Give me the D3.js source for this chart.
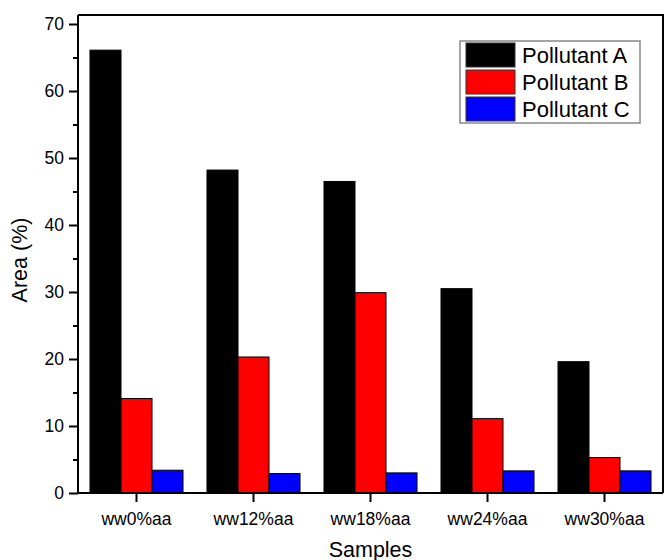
<!DOCTYPE html>
<html>
<head>
<meta charset="utf-8">
<script src="https://cdn.jsdelivr.net/npm/d3@7"></script>
<style>
  body { margin: 0; background: #fff; }
  text { font-family: Arial, "Liberation Sans", sans-serif; fill: #000; }
</style>
</head>
<body>
<svg id="chart" width="664" height="560"></svg>
<script>
// data
var samples = ["ww0%aa", "ww12%aa", "ww18%aa", "ww24%aa", "ww30%aa"];
var seriesNames = ["Pollutant A", "Pollutant B", "Pollutant C"];
var pollutantA = [66.1, 48.2, 46.5, 30.5, 19.6];
var pollutantB = [14.1, 20.3, 29.9, 11.1, 5.3];
var pollutantC = [3.4, 2.9, 3.0, 3.3, 3.3];
var colors = ["#000000", "#ff0000", "#0000ff"];
var yMajor = [0, 10, 20, 30, 40, 50, 60, 70];
var yMinor = [5, 15, 25, 35, 45, 55, 65];

var svg = d3.select("#chart");
var plotLeft = 78, plotRight = 663, plotTop = 15, plotBottom = 493;

var rows = samples.map(function(s, i) {
    return { sample: s, values: [pollutantA[i], pollutantB[i], pollutantC[i]] };
});

var x0 = d3.scaleBand()
    .domain(samples)
    .range([plotLeft, plotRight])
    .paddingInner(0.205)
    .paddingOuter(0.1025);
var x1 = d3.scaleBand()
    .domain(d3.range(seriesNames.length))
    .range([0, x0.bandwidth()]);
var y = d3.scaleLinear()
    .domain([0, 70])
    .range([plotBottom, 24]);

// bars
svg.append("g")
    .selectAll("g")
    .data(rows)
    .enter().append("g")
    .attr("transform", function(d) { return "translate(" + x0(d.sample) + ",0)"; })
    .selectAll("rect")
    .data(function(d) { return d.values; })
    .enter().append("rect")
    .attr("x", function(d, i) { return x1(i); })
    .attr("y", function(d) { return y(d); })
    .attr("width", x1.bandwidth())
    .attr("height", function(d) { return y(0) - y(d); })
    .attr("fill", function(d, i) { return colors[i]; })
    .attr("stroke", "#000")
    .attr("stroke-width", 1);

// frame: top and right
svg.append("path")
    .attr("d", "M" + plotLeft + "," + plotTop + "H" + plotRight + "V" + plotBottom)
    .attr("fill", "none")
    .attr("stroke", "#000")
    .attr("stroke-width", 2);

// y axis
var yAxis = svg.append("g")
    .attr("transform", "translate(" + plotLeft + ",0)")
    .call(d3.axisLeft(y).tickValues(yMajor).tickSize(9).tickPadding(5));
svg.append("g")
    .attr("transform", "translate(" + plotLeft + ",0)")
    .call(d3.axisLeft(y).tickValues(yMinor).tickSize(5).tickFormat(""))
    .select(".domain").remove();
yAxis.select(".domain").attr("d", "M0," + plotTop + "V" + plotBottom);

// x axis
var xAxis = svg.append("g")
    .attr("transform", "translate(0," + plotBottom + ")")
    .call(d3.axisBottom(x0).tickSize(9).tickPadding(11).tickSizeOuter(0));
xAxis.select(".domain").attr("d", "M" + plotLeft + ",0H" + plotRight);

svg.selectAll(".tick line, .domain")
    .attr("stroke", "#000")
    .attr("stroke-width", 2);
svg.selectAll(".tick text")
    .attr("font-size", 17.5)
    .attr("font-family", "Arial, 'Liberation Sans', sans-serif")
    .attr("fill", "#000");

// axis titles
svg.append("text")
    .attr("x", (plotLeft + plotRight) / 2)
    .attr("y", 557)
    .attr("text-anchor", "middle")
    .attr("font-size", 21.5)
    .text("Samples");
svg.append("text")
    .attr("transform", "translate(27,260) rotate(-90)")
    .attr("text-anchor", "middle")
    .attr("font-size", 21.5)
    .text("Area (%)");

// legend
var legend = svg.append("g").attr("transform", "translate(460,41)");
legend.append("rect")
    .attr("width", 180)
    .attr("height", 82)
    .attr("fill", "#fff")
    .attr("stroke", "#888")
    .attr("stroke-width", 1.5);
var item = legend.selectAll("g.item")
    .data(seriesNames)
    .enter().append("g")
    .attr("class", "item")
    .attr("transform", function(d, i) { return "translate(6," + (2 + i * 27) + ")"; });
item.append("rect")
    .attr("width", 49)
    .attr("height", 24)
    .attr("fill", function(d, i) { return colors[i]; })
    .attr("stroke", "#333")
    .attr("stroke-width", 1);
item.append("text")
    .attr("x", 56)
    .attr("y", 20)
    .attr("font-size", 22)
    .text(function(d) { return d; });
</script>
</body>
</html>
